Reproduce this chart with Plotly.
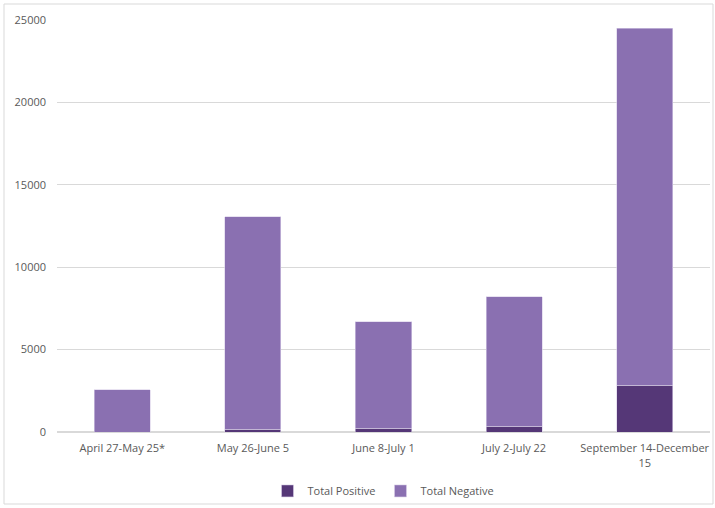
import plotly.graph_objects as go

categories = ["April 27-May 25*", "May 26-June 5", "June 8-July 1", "July 2-July 22",
              "September 14-December<br>15"]
total_positive = [0, 170, 220, 350, 2850]
total_negative = [2550, 12880, 6480, 7850, 21650]

font_color = "#595959"
fig = go.Figure()
fig.add_trace(go.Bar(x=categories, y=total_positive, name="Total Positive",
                     marker=dict(color="#553777", line=dict(color="#d9cfe8", width=0.6))))
fig.add_trace(go.Bar(x=categories, y=total_negative, name="Total Negative",
                     marker=dict(color="#8a70b1", line=dict(color="#d9cfe8", width=0.6))))

fig.update_layout(
    barmode="stack",
    bargap=0.57,
    width=715, height=508,
    margin=dict(l=57, r=5, t=20, b=76, autoexpand=False),
    plot_bgcolor="white", paper_bgcolor="white",
    font=dict(family="Open Sans, Liberation Sans, sans-serif", size=11, color=font_color),
    legend=dict(orientation="h", x=0.5, xanchor="center", y=-0.143, yanchor="middle",
                traceorder="normal", bgcolor="rgba(0,0,0,0)", itemwidth=30,
                font=dict(size=11, color=font_color)),
    showlegend=True,
)
fig.update_yaxes(range=[0, 25000], dtick=5000, tickformat="d", gridcolor="#d9d9d9",
                 gridwidth=1, zeroline=True, zerolinecolor="#d9d9d9", ticks="",
                 ticklabelstandoff=10, showline=False)
fig.update_xaxes(showline=True, linecolor="#d9d9d9", ticks="", tickangle=0,
                 ticklabelstandoff=6)
fig.add_shape(type="rect", xref="paper", yref="paper",
              x0=-53/653, x1=1 + 3/653, y0=-72/412, y1=1 + 16/412,
              line=dict(color="#d9d9d9", width=1), fillcolor="rgba(0,0,0,0)")

fig.write_html("out.html")
